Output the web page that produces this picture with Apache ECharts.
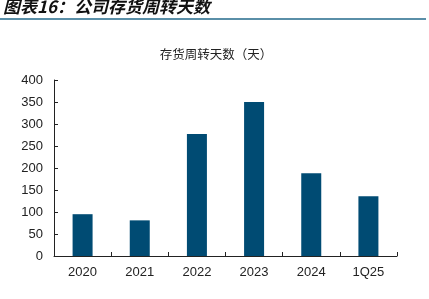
<!DOCTYPE html>
<html><head><meta charset="utf-8">
<script src="https://cdn.jsdelivr.net/npm/echarts@6/dist/echarts.min.js"></script>
<style>html,body{margin:0;padding:0;background:#fff}#c{width:429px;height:299px}</style>
</head><body><div id="c"></div>
<script>
const categories = ['2020','2021','2022','2023','2024','1Q25'];
const turnoverDays = [95, 81, 277, 350, 188, 136];
const yTicks = [0,50,100,150,200,250,300,350,400];

const chart = echarts.init(document.getElementById('c'));
chart.setOption({
  animation: false,
  title: {
    text: '存货周转天数（天）',
    left: 211, top: 43, textAlign: 'center',
    textStyle: {fontFamily: 'Noto Sans CJK SC', fontSize: 12.5, fontWeight: 'normal', color: '#222'}
  },
  graphic: [
    {type: 'text', left: 3, top: -2, style: {text: '图表16：公司存货周转天数', fontFamily: 'Noto Sans CJK SC', fontSize: 17, fontWeight: 'bold', fontStyle: 'italic', fill: '#111'}},
    {type: 'rect', shape: {x: 0, y: 18, width: 426, height: 2}, style: {fill: '#5a8fa8'}}
  ],
  grid: {left: 54, right: 32, top: 80, bottom: 43, containLabel: false},
  xAxis: {
    type: 'category', data: categories,
    axisLine: {lineStyle: {color: '#222', width: 1}},
    axisTick: {show: true, alignWithLabel: false, inside: true, length: 4, lineStyle: {color: '#222'}},
    axisLabel: {fontFamily: 'Liberation Sans', fontSize: 13, color: '#222', margin: 10}
  },
  yAxis: {
    type: 'value', min: 0, max: 400, interval: 50,
    axisLine: {show: true, lineStyle: {color: '#222'}},
    axisTick: {show: true, inside: true, length: 4, lineStyle: {color: '#222'}},
    splitLine: {show: false},
    axisLabel: {fontFamily: 'Liberation Sans', fontSize: 13, color: '#222', margin: 11,
      formatter: v => yTicks.includes(v) ? String(v) : ''}
  },
  series: [{
    type: 'bar', data: turnoverDays, barWidth: 20,
    itemStyle: {color: '#004b73'}
  }]
});
</script></body></html>
